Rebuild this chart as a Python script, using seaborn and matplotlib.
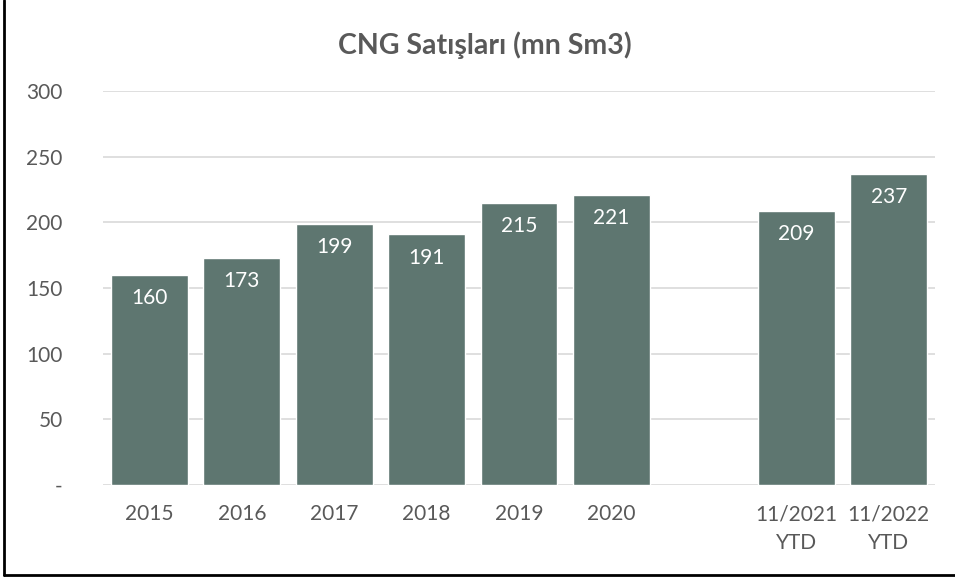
import matplotlib
matplotlib.use("Agg")
import matplotlib.pyplot as plt
import seaborn as sns
import pandas as pd
from matplotlib.lines import Line2D

categories = ["2015", "2016", "2017", "2018", "2019", "2020", " ", "11/2021\nYTD", "11/2022\nYTD"]
values = [160, 173, 199, 191, 215, 221, None, 209, 237]
yticks = [0, 50, 100, 150, 200, 250, 300]
ytick_labels = ["-", "50", "100", "150", "200", "250", "300"]
title = "CNG Satışları (mn Sm3)"

sns.set_style("white")
plt.rcParams["font.family"] = ["Lato", "DejaVu Sans"]

df = pd.DataFrame({"cat": categories, "val": values})

fig = plt.figure(figsize=(9.55, 5.79), dpi=100)
ax = fig.add_axes([0.108, 0.1623, 0.871, 0.6805])

for y in yticks:
    ax.axhline(y, color="#D9D9D9", linewidth=1.2, zorder=0)

sns.barplot(data=df, x="cat", y="val", color="#5E7670", saturation=1,
            width=0.83, ax=ax, zorder=2)

for c in ax.containers:
    labels = ["" if pd.isna(v) else f"{int(v)}" for v in c.datavalues]
    ax.bar_label(c, labels=labels, padding=-24, color="white", fontsize=15)

ax.set_ylim(0, 300)
ax.set_xlim(-0.5, len(categories) - 0.5)
ax.set_yticks(yticks)
ax.set_yticklabels(ytick_labels)
ax.set_xlabel("")
ax.set_ylabel("")
for s in ax.spines.values():
    s.set_visible(False)
ax.tick_params(axis="both", length=0, labelsize=15, labelcolor="#595959")
ax.tick_params(axis="y", pad=29)
ax.tick_params(axis="x", pad=14)
for lab in ax.get_xticklabels():
    lab.set_linespacing(1.55)

fig.text(0.508, 0.922, title, ha="center", va="center", fontsize=20.5,
         fontweight="bold", color="#595959")

# outer frame (left and bottom visible)
fig.add_artist(Line2D([0.004, 0.004], [0.007, 1.0], color="black", linewidth=2,
                      transform=fig.transFigure))
fig.add_artist(Line2D([0.004, 1.0], [0.007, 0.007], color="black", linewidth=2,
                      transform=fig.transFigure))

fig.savefig("out.png", dpi=100)
